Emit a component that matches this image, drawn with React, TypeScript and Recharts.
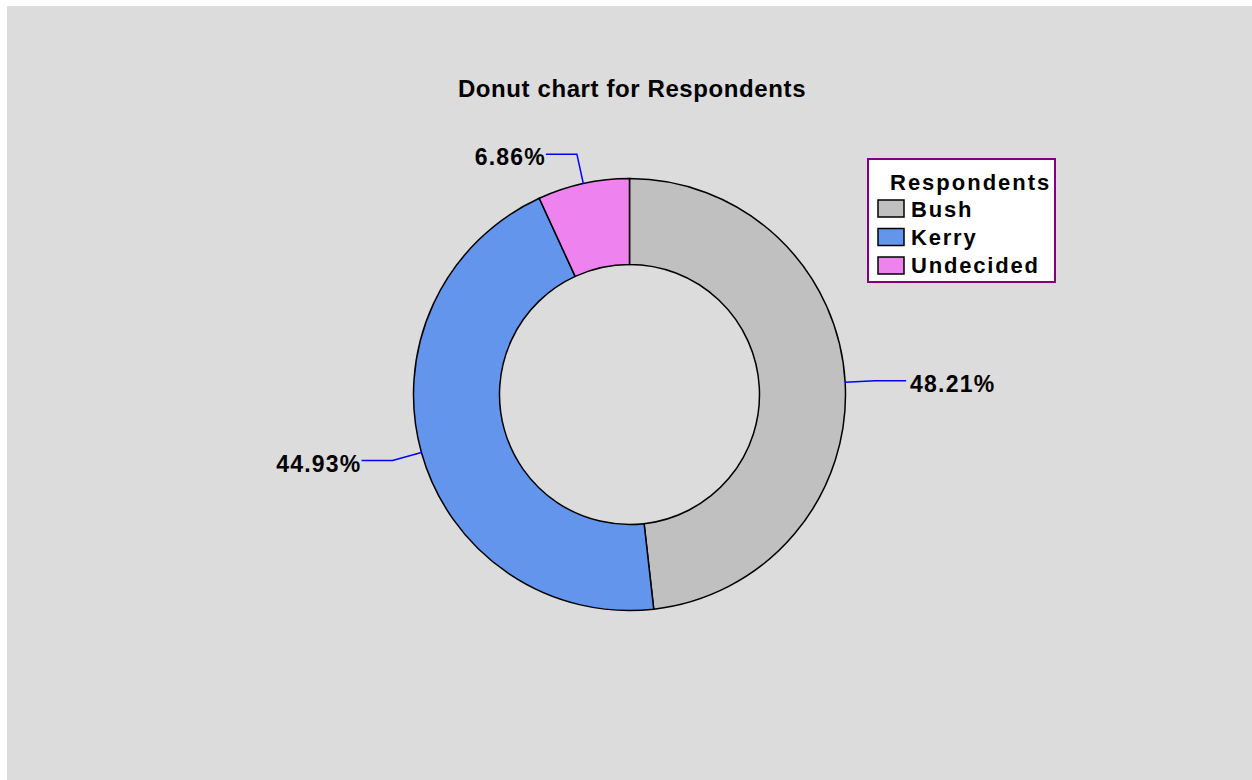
import { PieChart, Pie, Cell, Legend } from 'recharts';

const categories = ['Bush', 'Kerry', 'Undecided'];
const shares = [48.21, 44.93, 6.86];
const colors = ['#C0C0C0', '#6495ED', '#EE82EE'];
const legendTitle = 'Respondents';
const chartTitle = 'Donut chart for Respondents';

const FONT = '"Liberation Sans", Arial, sans-serif';
const RADIAN = Math.PI / 180;

const data = categories.map((name, i) => ({ name, value: shares[i] }));

const renderLabel = (props: any) => {
  const { cx, cy, midAngle, outerRadius, value } = props;
  const cos = Math.cos(-midAngle * RADIAN);
  const sin = Math.sin(-midAngle * RADIAN);
  const x1 = cx + outerRadius * cos;
  const y1 = cy + outerRadius * sin;
  const x2 = cx + (outerRadius + 30) * cos;
  const y2 = cy + (outerRadius + 30) * sin;
  const dir = cos >= 0 ? 1 : -1;
  const x3 = x2 + dir * 31;
  // end-anchored text carries trailing letter spacing, so no gap on the left side
  const tx = dir > 0 ? x3 + 4 : x3;
  return (
    <g>
      <path d={`M${x1},${y1}L${x2},${y2}L${x3},${y2}`} stroke="#0000FF" strokeWidth={1.5} fill="none" />
      <text
        x={tx}
        y={y2 + 11}
        textAnchor={dir > 0 ? 'start' : 'end'}
        fontFamily={FONT}
        fontWeight="bold"
        fontSize={23}
        letterSpacing={1.2}
        fill="#000"
      >
        {value.toFixed(2)}%
      </text>
    </g>
  );
};

const LegendBox = (props: any) => {
  const { payload } = props;
  return (
    <svg width={190} height={126} style={{ display: 'block' }}>
      <rect x={1} y={1} width={187} height={123} fill="#FFFFFF" stroke="#800080" strokeWidth={2} />
      <text x={23} y={32} fontFamily={FONT} fontWeight="bold" fontSize={22} letterSpacing={2} fill="#000">
        {legendTitle}
      </text>
      {(payload || []).map((entry: any, i: number) => (
        <g key={`item-${i}`}>
          <rect x={11} y={42 + i * 28.5} width={26} height={17} fill={entry.color} stroke="#000" strokeWidth={1.5} />
          <text x={44} y={59 + i * 28} fontFamily={FONT} fontWeight="bold" fontSize={22} letterSpacing={1.8} fill="#000">
            {entry.value}
          </text>
        </g>
      ))}
    </svg>
  );
};

export default function App() {
  return (
    <div style={{ position: 'absolute', left: 7, top: 6, width: 1245, height: 774, background: '#DCDCDC' }}>
      <svg width={1245} height={120} style={{ position: 'absolute', left: 0, top: 0 }}>
        <text x={625} y={91} textAnchor="middle" fontFamily={FONT} fontWeight="bold" fontSize={24} letterSpacing={0.6} fill="#000">
          {chartTitle}
        </text>
      </svg>
      <PieChart width={1245} height={774} margin={{ top: 0, right: 0, bottom: 0, left: 0 }} style={{ position: 'absolute', left: 0, top: 0 }}>
        <Pie
          data={data}
          dataKey="value"
          nameKey="name"
          cx={622.5}
          cy={388.5}
          innerRadius={130}
          outerRadius={216}
          startAngle={90}
          endAngle={-270}
          stroke="#000"
          strokeWidth={1.5}
          label={renderLabel}
          labelLine={false}
          isAnimationActive={false}
        >
          {data.map((_, index) => (
            <Cell key={`cell-${index}`} fill={colors[index % colors.length]} />
          ))}
        </Pie>
        <Legend
          layout="vertical"
          align="right"
          verticalAlign="middle"
          content={<LegendBox />}
          wrapperStyle={{ position: 'absolute', left: 860, top: 152, width: 190, height: 126 }}
        />
      </PieChart>
    </div>
  );
}
